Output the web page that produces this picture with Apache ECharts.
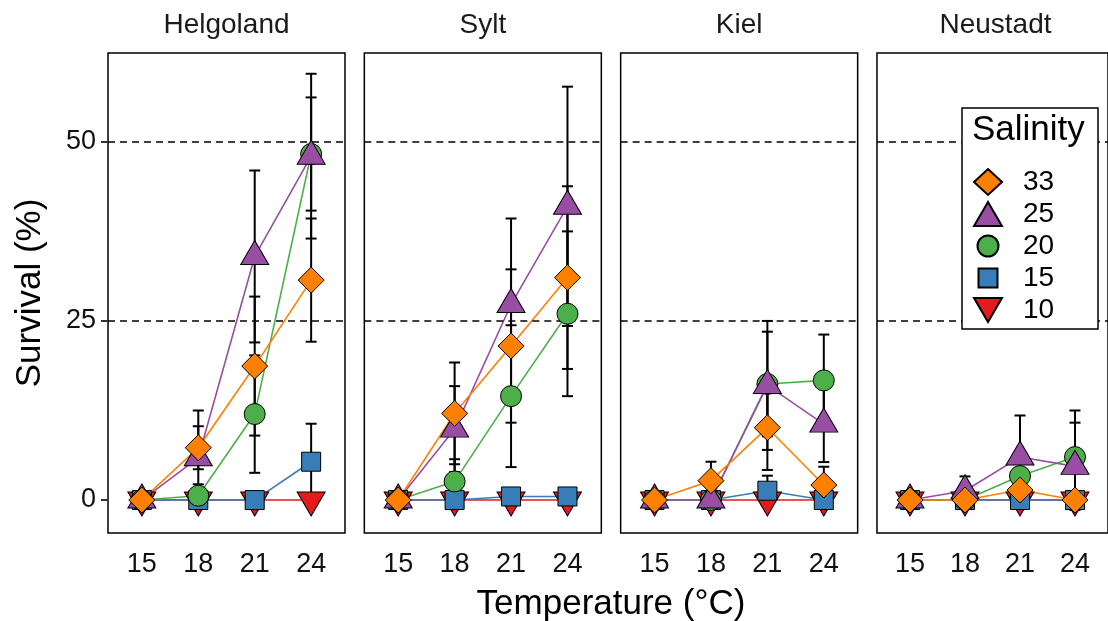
<!DOCTYPE html>
<html>
<head>
<meta charset="utf-8">
<title>Survival by temperature and salinity</title>
<script src="https://cdn.jsdelivr.net/npm/echarts@6/dist/echarts.min.js"></script>
<style>
  html, body { margin: 0; padding: 0; background: #fff; }
  #main { width: 1108px; height: 621px; }
</style>
</head>
<body>
<div id="main"></div>
<script>
// ---- data ---------------------------------------------------------------
const TEMPS = [15, 18, 21, 24];
const SITES = ['Helgoland', 'Sylt', 'Kiel', 'Neustadt'];
const SALINITIES = ['33', '25', '20', '15', '10'];
const Y_TICKS = [0, 25, 50];

// Mean survival (%) — rows: salinity 33, 25, 20, 15, 10; columns: 15, 18, 21, 24 °C
const helgolandMean = [
  [0, 7.3, 18.7, 30.7],
  [0, 5.9, 34.0, 48.0],
  [0, 0.6, 12.0, 48.3],
  [0, 0, 0, 5.35],
  [0, 0, 0, 0]
];
const helgolandSE = [
  [0, 3.0, 9.7, 8.6],
  [0, 6.6, 12.0, 11.5],
  [0, 1.6, 8.2, 7.9],
  [0, 0, 0, 5.3],
  [0, 0, 0, 0]
];

const syltMean = [
  [0, 12.1, 21.5, 31.05],
  [0, 9.9, 27.3, 41.0],
  [0, 2.6, 14.5, 26.0],
  [0, 0, 0.5, 0.5],
  [0, 0, 0, 0]
];
const syltSE = [
  [0, 7.1, 10.7, 12.75],
  [0, 6.0, 12.0, 16.7],
  [0, 3.1, 9.9, 11.5],
  [0, 0, 0, 0],
  [0, 0, 0, 0]
];

const kielMean = [
  [0, 2.7, 10.1, 2.1],
  [0, 0, 16.0, 10.6],
  [0, 0, 16.2, 16.7],
  [0, 0, 1.3, 0],
  [0, 0, 0, 0]
];
const kielSE = [
  [0, 2.65, 5.9, 2.55],
  [0, 0, 9.0, 5.3],
  [0, 0, 7.3, 6.4],
  [0, 0, 2.1, 0],
  [0, 0, 0, 0]
];

const neustadtMean = [
  [0, 0, 1.4, 0],
  [0, 1.3, 6.0, 4.7],
  [0, 0, 3.35, 6.0],
  [0, 0, 0, 0],
  [0, 0, 0, 0]
];
const neustadtSE = [
  [0, 0, 1.2, 0],
  [0, 2.0, 5.8, 6.1],
  [0, 0, 2.5, 6.5],
  [0, 0, 0, 0],
  [0, 0, 0, 0]
];

const MEANS = [helgolandMean, syltMean, kielMean, neustadtMean];
const SES = [helgolandSE, syltSE, kielSE, neustadtSE];

// ---- styling ------------------------------------------------------------
const FONT = '"Liberation Sans", Arial, Helvetica, sans-serif';
const TRI_UP = 'path://M1,0 L2,1.732 L0,1.732 Z';
const TRI_DOWN = 'path://M0,0 L2,0 L1,1.732 Z';
// legend icons share one box size, so the smaller glyphs carry an invisible 26x26 frame
const LEG_CIRCLE = 'path://M0,0 M26,26 M13,2.5 A10.5,10.5 0 1 1 13,23.5 A10.5,10.5 0 1 1 13,2.5 Z';
const LEG_SQUARE = 'path://M0,0 M26,26 M3.5,3.5 L22.5,3.5 L22.5,22.5 L3.5,22.5 Z';
const MARKERS = {
  '33': { color: '#FF7F00', symbol: 'diamond', size: [26, 26], offset: [0, 0], legendIcon: 'diamond' },
  '25': { color: '#984EA3', symbol: TRI_UP, size: [28, 24], offset: [0, -4], legendIcon: TRI_UP },
  '20': { color: '#4DAF4A', symbol: 'circle', size: 21, offset: [0, 0], legendIcon: LEG_CIRCLE },
  '15': { color: '#377EB8', symbol: 'rect', size: 19, offset: [0, 0], legendIcon: LEG_SQUARE },
  '10': { color: '#E41A1C', symbol: TRI_DOWN, size: [28, 24], offset: [0, 4], legendIcon: TRI_DOWN }
};

const PANEL = { left: 108, top: 53, width: 237, height: 480, step: 256.33 };
const X_RANGE = [13.2, 25.8];
const Y_RANGE = [-4.6, 62.4];

// ---- layout: one grid per site ------------------------------------------
const grids = SITES.map((s, i) => ({
  left: PANEL.left + i * PANEL.step,
  top: PANEL.top,
  width: PANEL.width,
  height: PANEL.height,
  show: true,
  borderColor: '#000',
  borderWidth: 1.5,
  backgroundColor: 'transparent'
}));

const xAxes = SITES.map((s, i) => ({
  type: 'value',
  gridIndex: i,
  min: X_RANGE[0],
  max: X_RANGE[1],
  axisLine: { show: false },
  splitLine: { show: false },
  axisTick: { show: true, customValues: TEMPS, length: 7, lineStyle: { color: '#333', width: 2 } },
  axisLabel: { show: true, customValues: TEMPS, fontSize: 27, color: '#111', margin: 18, fontFamily: FONT }
}));

const yAxes = SITES.map((s, i) => ({
  type: 'value',
  gridIndex: i,
  min: Y_RANGE[0],
  max: Y_RANGE[1],
  axisLine: { show: false },
  splitLine: { show: false },
  axisTick: { show: i === 0, customValues: Y_TICKS, length: 7, lineStyle: { color: '#333', width: 2 } },
  axisLabel: { show: i === 0, customValues: Y_TICKS, fontSize: 27, color: '#111', margin: 12, fontFamily: FONT }
}));

// ---- series -------------------------------------------------------------
const pointSeries = [];
const lineSeries = [];
const errorSeries = [];

// draw order: salinity 10 first so that 33 ends up on top
const drawOrder = SALINITIES.map((s, k) => k).reverse();

SITES.forEach((site, i) => {
  drawOrder.forEach(k => {
    const sal = SALINITIES[k];
    const m = MARKERS[sal];
    const pts = TEMPS.map((t, j) => [t, MEANS[i][k][j]]);
    pointSeries.push({
      type: 'scatter',
      name: sal,
      xAxisIndex: i,
      yAxisIndex: i,
      data: pts,
      symbol: m.symbol,
      symbolSize: m.size,
      symbolOffset: m.offset,
      itemStyle: { color: m.color, borderColor: '#000', borderWidth: 1, opacity: 1 },
      z: 5,
      silent: true
    });
    lineSeries.push({
      type: 'line',
      name: sal,
      xAxisIndex: i,
      yAxisIndex: i,
      data: pts,
      symbol: 'none',
      lineStyle: { color: m.color, width: 1.6 },
      z: 2,
      silent: true
    });
  });

  // black error bars (mean ± SE) for every non-zero spread
  const bars = [];
  SALINITIES.forEach((sal, k) => {
    TEMPS.forEach((t, j) => {
      const se = SES[i][k][j];
      if (se > 0) bars.push([t, MEANS[i][k][j], se]);
    });
  });
  errorSeries.push({
    type: 'custom',
    name: 'se-' + site,
    xAxisIndex: i,
    yAxisIndex: i,
    data: bars,
    z: 3,
    silent: true,
    renderItem: (params, api) => {
      const x = api.value(0), y = api.value(1), se = api.value(2);
      const hi = api.coord([x, y + se]);
      const lo = api.coord([x, y - se]);
      const hw = 5.5;
      const st = { stroke: '#000', lineWidth: 2 };
      return {
        type: 'group',
        children: [
          { type: 'line', shape: { x1: hi[0], y1: hi[1], x2: lo[0], y2: lo[1] }, style: st },
          { type: 'line', shape: { x1: hi[0] - hw, y1: hi[1], x2: hi[0] + hw, y2: hi[1] }, style: st },
          { type: 'line', shape: { x1: lo[0] - hw, y1: lo[1], x2: lo[0] + hw, y2: lo[1] }, style: st }
        ]
      };
    }
  });

  // dashed reference lines at 25 % and 50 %
  lineSeries.push({
    type: 'line',
    name: 'ref-' + site,
    xAxisIndex: i,
    yAxisIndex: i,
    data: [],
    z: 1,
    silent: true,
    markLine: {
      silent: true,
      symbol: 'none',
      label: { show: false },
      lineStyle: { color: '#000', type: [7, 5], width: 1.5 },
      data: [{ yAxis: 25 }, { yAxis: 50 }]
    }
  });
});

// ---- text ---------------------------------------------------------------
const graphics = [];
SITES.forEach((site, i) => {
  graphics.push({
    type: 'text',
    x: PANEL.left + i * PANEL.step + PANEL.width / 2,
    y: 25,
    silent: true,
    style: { text: site, textAlign: 'center', textVerticalAlign: 'middle', fontSize: 28, fontFamily: FONT, fill: '#1a1a1a' }
  });
});
graphics.push({
  type: 'text', x: 611, y: 604, silent: true,
  style: { text: 'Temperature (°C)', textAlign: 'center', textVerticalAlign: 'middle', fontSize: 35, fontFamily: FONT, fill: '#000' }
});
graphics.push({
  type: 'text', x: 30, y: 293, rotation: Math.PI / 2, silent: true,
  style: { text: 'Survival (%)', textAlign: 'center', textVerticalAlign: 'middle', fontSize: 35, fontFamily: FONT, fill: '#000' }
});
// legend frame and title
graphics.push({
  type: 'rect', z: 50, silent: true,
  shape: { x: 962, y: 108, width: 136, height: 221 },
  style: { fill: '#fff', stroke: '#000', lineWidth: 1.5 }
});
graphics.push({
  type: 'text', z: 60, x: 972, y: 130, silent: true,
  style: { text: 'Salinity', textAlign: 'left', textVerticalAlign: 'middle', fontSize: 35, fontFamily: FONT, fill: '#000' }
});

const option = {
  animation: false,
  backgroundColor: '#fff',
  grid: grids,
  xAxis: xAxes,
  yAxis: yAxes,
  legend: {
    data: SALINITIES.map(s => ({ name: s, icon: MARKERS[s].legendIcon })),
    orient: 'vertical',
    left: 973,
    top: 167,
    padding: 0,
    itemWidth: 28,
    itemHeight: 26,
    itemGap: 2,
    selectedMode: false,
    z: 60,
    textStyle: { fontSize: 28, lineHeight: 30, color: '#000', fontFamily: FONT, padding: [0, 0, 0, 16] }
  },
  graphic: graphics,
  series: [...pointSeries, ...lineSeries, ...errorSeries]
};

const chart = echarts.init(document.getElementById('main'));
chart.setOption(option);
</script>
</body>
</html>
